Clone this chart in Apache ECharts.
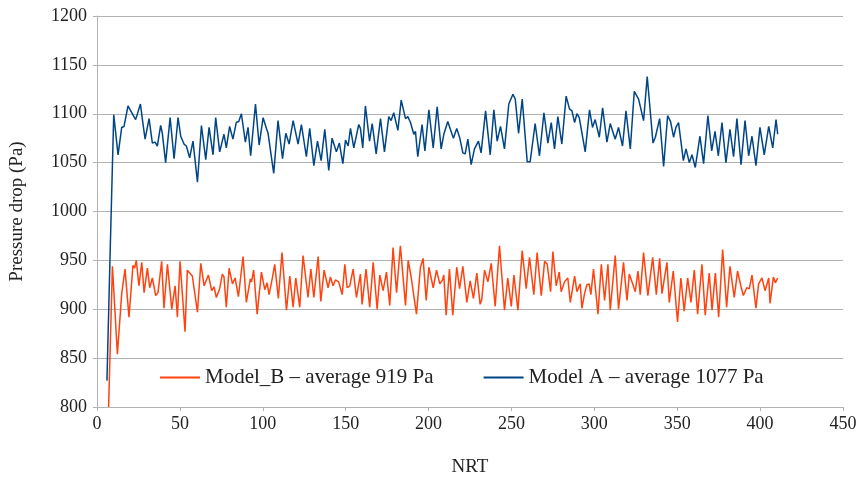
<!DOCTYPE html>
<html>
<head>
<meta charset="utf-8">
<script src="https://cdn.jsdelivr.net/npm/echarts@6/dist/echarts.min.js"></script>
<style>html,body{margin:0;padding:0;background:#fff}#c{width:861px;height:487px}</style>
</head>
<body>
<div id="c"></div>
<script>
const xTicks = [0, 450, 50];
const yTicks = [800, 1200, 50];
const seriesNames = ['Model_B – average 919 Pa', 'Model A – average 1077 Pa'];

const xB = [7, 9.3, 12.3, 14.9, 16.9, 19.3, 21.7, 22.7, 23.7, 25.3, 27, 28.4, 30.4, 31.8, 33.4, 35.4, 36.8, 39, 40.4, 42.5, 45.1, 47.1, 48.5, 50.1, 53.1, 54.5, 55.5, 57.5, 60.6, 62.6, 64.6, 67.2, 69.2, 70.6,
  72, 74, 75.6, 76.6, 78, 79.7, 81.7, 83.3, 85.3, 88.1, 90.1, 92.5, 93.2, 94.5, 96.6, 99.2, 101.2, 102.6, 103.8, 105.8, 107.2, 109.4, 111.6, 114.3, 116.3, 118.3, 119.9, 122.3, 124.3, 127.3, 129, 130.8, 133.4, 135, 137, 139.4,
  140.8, 142.4, 143.8, 145.8, 147.9, 149.5, 150.9, 152.5, 154.5, 156.5, 158.9, 159.9, 162.3, 164.5, 166.6, 169, 170.6, 172.6, 174.6, 176.6, 178.6, 180.7, 183, 186.1, 187.7, 189.5, 190.7, 192.7, 195.1, 196.7, 198.6, 200.2, 202.8, 204.8, 206.8,
  208.4, 209.2, 210.6, 212.6, 214.6, 217, 218.7, 220.7, 223.1, 225.1, 227.1, 229.1, 231.1, 232.1, 233.8, 235.8, 237.8, 240.2, 242.8, 245.8, 247.8, 249.9, 251.5, 253.9, 256.5, 258.9, 260.9, 263.5, 265.5, 268, 270, 271.6, 273.6, 275, 277,
  278.8, 280, 282, 284, 285.5, 288.1, 289.5, 291.5, 292.5, 294.1, 295.5, 296.9, 297.9, 299.5, 302.2, 304.2, 306.2, 308.2, 309.6, 312.6, 314.6, 317.6, 319.7, 321.1, 323.1, 324.7, 326.3, 327.7, 329.7, 332.3, 335.2, 337.4, 339.4, 340.8, 343.8, 345.2,
  347.6, 350.2, 352.2, 354.2, 356.3, 358.3, 360.3, 362.3, 364.9, 366.9, 369.3, 371, 373, 375, 377.4, 379.8, 381.8, 384.4, 386.4, 388.5, 389.9, 391.9, 393.5, 395.1, 397.5, 399.1, 399.9, 401.1, 403, 405.2, 406, 408, 409.2, 410.6];
const yB = [800, 944, 854, 916, 941, 892, 945, 942, 950, 924, 948, 917, 942, 922, 932, 914, 917, 949, 901, 946, 900, 924, 892, 949, 877, 940, 938, 934, 897, 947, 924, 935, 919, 923,
  912, 921, 936, 933, 902, 942, 926, 932, 913, 954, 907, 931, 928, 940, 895, 938, 920, 927, 915, 932, 946, 911, 958, 899, 934, 902, 932, 902, 955, 912, 941, 912, 954, 908, 940, 922,
  933, 924, 930, 928, 915, 946, 922, 924, 941, 912, 936, 905, 941, 902, 948, 900, 935, 919, 938, 904, 963, 917, 965, 904, 950, 933, 932, 895, 943, 952, 909, 943, 922, 940, 926,
  930, 935, 894, 941, 894, 943, 921, 944, 907, 929, 911, 937, 905, 910, 940, 928, 947, 903, 965, 899, 932, 903, 935, 899, 960, 921, 953, 915, 958, 914, 949, 946, 918, 959, 924,
  938, 918, 928, 932, 907, 934, 918, 926, 901, 916, 925, 926, 915, 941, 895, 946, 909, 946, 899, 955, 900, 948, 909, 936, 926, 918, 939, 915, 958, 914, 953, 915, 952, 916, 948, 907,
  939, 887, 932, 898, 932, 907, 940, 895, 946, 894, 937, 899, 937, 892, 961, 902, 944, 912, 939, 923, 914, 922, 921, 935, 901, 926, 924, 932, 919, 932, 906, 933, 927, 932];

const xA = [6, 8, 10.1, 12.7, 14.9, 16.3, 18.7, 20.7, 21.7, 23.3, 24.5, 26.2, 27.4, 29, 31.4, 33.4, 35, 36.4, 38.4, 39.4, 41.4, 44.1, 46.5, 48.9, 50.5, 52.5, 53.9, 55.9, 57.9, 60.6, 63, 65.6, 67.6, 70, 71.6,
  74, 76.6, 78, 80, 82, 84, 85.5, 87.1, 89.5, 91.1, 92.7, 95.6, 97.8, 100.2, 102.2, 103.2, 106.6, 109.2, 111.9, 113.9, 115.9, 118.3, 121.3, 123.3, 126.3, 128.3, 130.8, 133, 135.2, 137.4, 139.8,
  141.8, 144.4, 146.2, 148.3, 149.9, 151.5, 152.9, 154.9, 157.9, 158.9, 160.3, 161.9, 164.4, 166, 168.4, 171, 173.4, 176, 177.4, 179, 181.5, 183.5, 186.1, 187.5, 189.1, 191.1, 192.1, 193.5, 196.1, 197.8, 200.2, 202.8, 205.2, 207.6,
  209.2, 211.6, 213.2, 215, 217, 218.7, 220.7, 222.1, 223.7, 225.7, 227.7, 230.1, 231.7, 234.4, 237.2, 239.4, 241.4, 243.4, 245.8, 248.4, 249.3, 250.9, 252.3, 254.3, 256.5, 259.5, 261.3, 264.3, 266.9, 269.6, 272, 274, 276,
  278, 280.4, 283, 285, 286.5, 288.1, 289.5, 290.9, 292.1, 294.5, 297.1, 298.9, 300.5, 303, 305, 307.6, 309.6, 312.6, 314.6, 317, 319.1, 321.7, 324.1, 326.7, 327.7, 329.7, 331.9, 333.3, 335.4, 336.8, 339.4, 341.8, 344.2, 346,
  347.8, 349.2, 350.8, 353.7, 355.3, 357.3, 358.9, 360.9, 363.7, 365.9, 368.5, 370.8, 372.8, 374.8, 377, 379.4, 381.8, 384, 386, 388.5, 390.9, 393.1, 395.1, 397.5, 399.9, 402.5, 405.2, 407.6, 409.6, 410.6];
const yA = [827, 963, 1099, 1058, 1086, 1087, 1108, 1102, 1101, 1094, 1095, 1110, 1094, 1074, 1095, 1070, 1071, 1067, 1088, 1080, 1050, 1096, 1054, 1096, 1077, 1069, 1067, 1055, 1072, 1030, 1088, 1053, 1086, 1058, 1096,
  1061, 1079, 1065, 1087, 1074, 1091, 1092, 1100, 1071, 1086, 1057, 1110, 1068, 1096, 1085, 1080, 1039, 1093, 1054, 1080, 1069, 1093, 1069, 1089, 1056, 1085, 1047, 1072, 1052, 1084, 1042,
  1075, 1061, 1070, 1049, 1073, 1067, 1085, 1065, 1089, 1085, 1065, 1108, 1072, 1090, 1059, 1095, 1061, 1097, 1093, 1101, 1083, 1114, 1095, 1097, 1091, 1079, 1082, 1056, 1089, 1062, 1104, 1065, 1107, 1064,
  1079, 1092, 1084, 1075, 1085, 1076, 1060, 1059, 1074, 1048, 1064, 1072, 1060, 1103, 1058, 1104, 1072, 1087, 1064, 1110, 1111, 1120, 1115, 1080, 1115, 1051, 1051, 1090, 1057, 1101, 1070, 1091, 1064,
  1097, 1069, 1118, 1105, 1103, 1091, 1100, 1096, 1098, 1061, 1104, 1086, 1094, 1076, 1106, 1071, 1090, 1074, 1086, 1067, 1103, 1064, 1123, 1115, 1117, 1093, 1138, 1111, 1070, 1076, 1095, 1046, 1098, 1092,
  1076, 1086, 1091, 1052, 1064, 1050, 1058, 1045, 1077, 1049, 1098, 1062, 1082, 1057, 1091, 1050, 1084, 1056, 1095, 1048, 1093, 1057, 1077, 1047, 1086, 1058, 1087, 1065, 1094, 1079];

const zip = (xs, ys) => xs.map((x, i) => [x, ys[i]]);
const font = 'Liberation Serif';

const chart = echarts.init(document.getElementById('c'), null, {renderer: 'canvas'});
chart.setOption({
  animation: false,
  backgroundColor: '#ffffff',
  grid: {left: 97, right: 18, top: 16, bottom: 80},
  legend: {
    left: 155, top: 362,
    itemGap: 50, itemWidth: 40, itemHeight: 2,
    icon: 'rect',
    textStyle: {fontFamily: font, fontSize: 21, color: '#222'},
    data: seriesNames
  },
  xAxis: {
    type: 'value', min: xTicks[0], max: xTicks[1], interval: xTicks[2],
    name: 'NRT', nameLocation: 'middle', nameGap: 51,
    nameTextStyle: {fontFamily: font, fontSize: 19, color: '#222'},
    axisLine: {show: true, lineStyle: {color: '#b3b3b3', width: 1}},
    axisTick: {show: true, length: 4, lineStyle: {color: '#b3b3b3'}},
    axisLabel: {fontFamily: font, fontSize: 18, color: '#222', margin: 8},
    splitLine: {show: false}
  },
  yAxis: {
    type: 'value', min: yTicks[0], max: yTicks[1], interval: yTicks[2],
    name: 'Pressure drop (Pa)', nameLocation: 'middle', nameGap: 70,
    nameTextStyle: {fontFamily: font, fontSize: 19, color: '#222'},
    axisLine: {show: true, lineStyle: {color: '#b3b3b3', width: 1}},
    axisTick: {show: true, length: 4, lineStyle: {color: '#b3b3b3'}},
    axisLabel: {fontFamily: font, fontSize: 18, color: '#222', margin: 10, formatter: v => String(v)},
    splitLine: {show: true, lineStyle: {color: '#b3b3b3', width: 1}}
  },
  series: [
    {name: seriesNames[0], type: 'line', data: zip(xB, yB), showSymbol: false, clip: true,
     lineStyle: {color: '#ff420e', width: 1.5}, itemStyle: {color: '#ff420e'}},
    {name: seriesNames[1], type: 'line', data: zip(xA, yA), showSymbol: false, clip: true,
     lineStyle: {color: '#004586', width: 1.5}, itemStyle: {color: '#004586'}}
  ]
});
</script>
</body>
</html>
